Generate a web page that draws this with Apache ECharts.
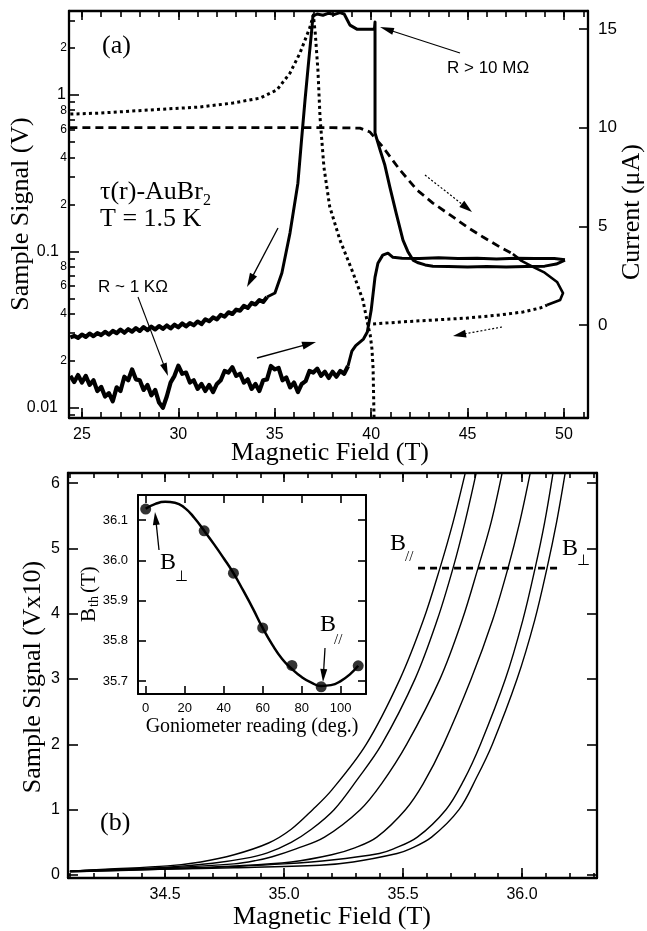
<!DOCTYPE html>
<html><head><meta charset="utf-8">
<script src="https://cdn.jsdelivr.net/npm/echarts@6.0.0/dist/echarts.min.js"></script>
<style>html,body{margin:0;padding:0;background:#fff;}#c{width:647px;height:931px;}</style>
</head><body><div id="c"></div>
<script>
// ---------- Panel (a) data ----------
const sigUpNoisyB = [24.4,24.6,24.8,25.0,25.2,25.4,25.6,25.8,26.0,26.2,26.4,26.6,26.8,27.0,27.2,27.4,27.6,27.8,28.0,28.2,28.4,28.6,28.8,29.0,29.2,29.4,29.6,29.8,30.0,30.2,30.4,30.6,30.8,31.0,31.2,31.4,31.6,31.8,32.0,32.2,32.4,32.6,32.8,33.0,33.2,33.4,33.6,33.8,34.0,34.2,34.4,34.6,34.8,35.0,35.2,35.4,35.6,35.8,36.0,36.2,36.4,36.6,36.8,37.0,37.2,37.4,37.6,37.8,38.0,38.2,38.4,38.6,38.8];
const sigUpNoisyV = [0.0160,0.0146,0.0162,0.0145,0.0160,0.0140,0.0150,0.0128,0.0136,0.0118,0.0124,0.0110,0.0135,0.0128,0.0158,0.0150,0.0176,0.0152,0.0150,0.0130,0.0140,0.0120,0.0130,0.0108,0.0100,0.0118,0.0145,0.0160,0.0186,0.0165,0.0168,0.0145,0.0150,0.0132,0.0142,0.0128,0.0140,0.0126,0.0142,0.0150,0.0172,0.0168,0.0182,0.0160,0.0165,0.0145,0.0152,0.0132,0.0142,0.0128,0.0150,0.0152,0.0185,0.0176,0.0180,0.0150,0.0156,0.0135,0.0145,0.0126,0.0142,0.0148,0.0172,0.0168,0.0178,0.0160,0.0170,0.0155,0.0170,0.0158,0.0172,0.0165,0.0185];
const sigUpCleanB = [38.8,39.0,39.2,39.4,39.6,39.8,40.0,40.2,40.35,40.6,40.87,41.13,41.6,42.5,43.5,44.5,45.5,46.5,47.5,48.5,49.5,50.05];
const sigUpCleanV = [0.0185,0.0230,0.0250,0.0262,0.0275,0.0305,0.0420,0.0685,0.0840,0.0947,0.0975,0.0917,0.0905,0.0900,0.0910,0.0900,0.0905,0.0895,0.0905,0.0900,0.0900,0.0885];
const sigDownCleanB = [50.05,49.6,49.0,48.0,47.0,46.0,45.0,44.0,43.2,42.8,42.4,42.17,41.9,41.65,41.3,40.97,40.7,40.46,40.2,40.2,40.17,39.6,39.26,38.9,38.6,38.38,38.1,37.8,37.5,37.2,36.98,36.93,36.75,36.57,36.38,36.2,35.79,35.37,35.01,34.6];
const sigDownCleanV = [0.0880,0.0830,0.0805,0.0800,0.0795,0.0800,0.0795,0.0800,0.0805,0.0820,0.0850,0.0880,0.100,0.118,0.175,0.258,0.360,0.446,0.572,2.93,2.64,2.64,2.64,2.80,3.30,3.37,3.28,3.34,3.24,3.30,3.20,2.70,1.60,0.93,0.50,0.273,0.131,0.0728,0.0542,0.0511];
const sigDownNoisyB = [34.6,34.4,34.2,34.0,33.8,33.6,33.4,33.2,33.0,32.8,32.6,32.4,32.2,32.0,31.8,31.6,31.4,31.2,31.0,30.8,30.6,30.4,30.2,30.0,29.8,29.6,29.4,29.2,29.0,28.8,28.6,28.4,28.2,28.0,27.8,27.6,27.4,27.2,27.0,26.8,26.6,26.4,26.2,26.0,25.8,25.6,25.4,25.2,25.0,24.8,24.6,24.4];
const sigDownNoisyV = [0.0511,0.0475,0.0488,0.0458,0.0468,0.0435,0.0448,0.0418,0.0424,0.0398,0.0408,0.0383,0.0393,0.0368,0.0378,0.0358,0.0368,0.0343,0.0356,0.0337,0.0348,0.0332,0.0346,0.0327,0.0340,0.0322,0.0336,0.0320,0.0333,0.0317,0.0330,0.0314,0.0328,0.0310,0.0323,0.0307,0.0318,0.0302,0.0316,0.0300,0.0310,0.0294,0.0306,0.0292,0.0300,0.0287,0.0298,0.0284,0.0294,0.0280,0.0288,0.0282];
const curDashB = [24.35,30,35,38,39.42,39.94,40.61,41.49,42.38,43.2,44.09,44.97,45.8,46.68,47.35];
const curDashI = [10.0,10.0,10.0,10.0,9.98,9.78,9.02,7.86,6.84,6.18,5.58,4.97,4.46,3.95,3.60];
const curLoopB = [47.35,47.8,48.39,49.0,49.64,49.95,49.8,49.12];
const curLoopI = [3.60,3.25,2.95,2.65,2.18,1.62,1.27,1.01];
const curDotAB = [24.4,25.93,28.53,31.12,32.83,34.23,35.11,35.79,36.31,36.83,37.0,37.1,37.24,37.35,37.55,37.85,38.38,39.06,39.57,39.83,39.95,40.04,40.1,40.15];
const curDotAI = [10.69,10.74,10.90,11.05,11.25,11.50,11.91,12.77,13.79,15.10,15.71,14.8,12.9,10.5,8.0,6.0,4.31,2.64,1.27,0.0,-0.5,-1.2,-2.2,-4.72];
const curDotBB = [40.1,41.49,43.2,44.97,46.68,47.87,48.75,49.12];
const curDotBI = [0.05,0.15,0.25,0.35,0.51,0.66,0.86,1.01];
// ---------- Panel (b) data ----------
const c1B = [34.10,34.25,34.51,34.65,34.79,34.935,35.03,35.12,35.20,35.345,35.487,35.585,35.655,35.71,35.761];
const c1V = [0.06,0.09,0.14,0.20,0.31,0.49,0.70,1.00,1.30,2.00,3.00,3.90,4.70,5.40,6.15];
const c2B = [34.10,34.25,34.51,34.70,34.83,34.93,35.03,35.115,35.21,35.305,35.41,35.55,35.643,35.710,35.76,35.807];
const c2V = [0.06,0.08,0.12,0.18,0.25,0.34,0.50,0.70,1.00,1.45,2.00,3.00,3.90,4.70,5.40,6.15];
const c3B = [34.10,34.51,34.79,34.88,34.95,35.05,35.17,35.32,35.41,35.515,35.655,35.748,35.815,35.87,35.916];
const c3V = [0.06,0.11,0.17,0.22,0.28,0.40,0.58,1.00,1.40,2.00,3.00,3.90,4.70,5.40,6.15];
const c4B = [34.10,34.51,34.80,35.03,35.20,35.30,35.39,35.51,35.585,35.67,35.786,35.876,35.941,35.99,36.034];
const c4V = [0.06,0.10,0.14,0.20,0.31,0.42,0.58,1.00,1.40,2.00,3.00,3.90,4.70,5.40,6.15];
const c5B = [34.10,34.51,34.79,35.0,35.20,35.40,35.46,35.56,35.68,35.755,35.825,35.93,36.003,36.055,36.095,36.130];
const c5V = [0.05,0.09,0.13,0.17,0.23,0.33,0.40,0.58,1.00,1.45,2.00,3.00,3.90,4.70,5.40,6.15];
const c6B = [34.10,34.51,34.79,35.15,35.29,35.475,35.53,35.62,35.735,35.81,35.875,35.979,36.053,36.105,36.145,36.181];
const c6V = [0.05,0.09,0.11,0.15,0.20,0.33,0.40,0.58,1.00,1.50,2.00,3.00,3.90,4.70,5.40,6.15];
const threshB = [35.563,36.168];
const threshV = [4.70,4.70];
// inset
const angDeg = [0,30,45,60,75,90,109];
const bTh = [36.127,36.073,35.968,35.832,35.739,35.686,35.738];
const fitDeg = [0,5,10,15,20,25,30,35,40,45,50,55,60,65,70,75,80,85,90,95,100,105,109];
const fitB = [36.128,36.140,36.145,36.143,36.130,36.105,36.073,36.040,36.005,35.968,35.925,35.880,35.832,35.790,35.755,35.730,35.710,35.696,35.688,35.690,35.700,35.718,35.738];
// ---------- tick lists ----------
const aXMajor = [25,30,35,40,45,50];
const aXMinor = [25,26,27,28,29,30,31,32,33,34,35,36,37,38,39,40,41,42,43,44,45,46,47,48,49,50,51];
const aYLabels = [0.01,0.02,0.04,0.06,0.08,0.1,0.2,0.4,0.6,0.8,1,2];
const aYMajor = [0.01,0.1,1];
const aYMinor = [0.009,0.02,0.03,0.04,0.05,0.06,0.07,0.08,0.09,0.2,0.3,0.4,0.5,0.6,0.7,0.8,0.9,2,3];
const aCurTicks = [0,5,10,15];
const bXMajor = [34.5,35.0,35.5,36.0];
const bXMinor = [34.1,34.2,34.3,34.4,34.5,34.6,34.7,34.8,34.9,35.0,35.1,35.2,35.3,35.4,35.5,35.6,35.7,35.8,35.9,36.0,36.1,36.2,36.3];
const bYTicks = [0,1,2,3,4,5,6];
const inXTicks = [0,20,40,60,80,100];
const inYTicks = [35.7,35.8,35.9,36.0,36.1];

const SANS = '"Liberation Sans", Arial, sans-serif';
const SERIF = '"Liberation Serif", "Times New Roman", serif';
const zip = (a,b) => a.map((v,i)=>[v,b[i]]);

function ax(o){
  const a = {
    type: o.type || 'value', gridIndex: o.grid, position: o.pos, min: o.min, max: o.max,
    splitLine:{show:false},
    axisLine:{show: !!o.line, onZero:false, lineStyle:{color:'#000', width:o.lw||2.3}},
    axisTick:{show: !!o.ticks, inside:true, length:o.tl||8, customValues:o.ticks, lineStyle:{color:'#000', width:1.6}},
    axisLabel:{show: !!o.labels, customValues:o.labels, margin:o.margin==null?8:o.margin, color:'#000', fontFamily:SANS, fontSize:o.fs||16, formatter:o.fmt, rich:o.rich},
    axisPointer:{show:false}, silent:true, z: 7
  };
  if (a.type === 'log') a.logBase = 10;
  return a;
}
const f1 = v => Number(v).toFixed(1);
const logFmt = v => {
  if (Math.abs(v-0.01)<1e-9) return '{b10|0.01}';
  if (Math.abs(v-0.1)<1e-9) return '{b8|0.1}';
  if (Math.abs(v-1)<1e-9) return '{b1|1}';
  const e = Math.floor(Math.log10(v)+1e-9);
  return '{s|' + Math.round(v/Math.pow(10,e)) + '}';
};

const xAxis = [
  ax({grid:0,pos:'bottom',min:24.33,max:51.245,line:true,ticks:aXMajor,tl:10,labels:aXMajor,margin:9,fs:16}),
  ax({grid:0,pos:'bottom',min:24.33,max:51.245,ticks:aXMinor,tl:6}),
  ax({grid:0,pos:'top',min:24.33,max:51.245,line:true,ticks:aXMajor,tl:9}),
  ax({grid:0,pos:'top',min:24.33,max:51.245,ticks:aXMinor,tl:6}),
  ax({grid:1,pos:'bottom',min:34.092,max:36.315,line:true,ticks:bXMajor,tl:10,labels:bXMajor,margin:9,fs:16,fmt:f1}),
  ax({grid:1,pos:'bottom',min:34.092,max:36.315,ticks:bXMinor,tl:5}),
  ax({grid:1,pos:'top',min:34.092,max:36.315,line:true,ticks:bXMajor,tl:9}),
  ax({grid:1,pos:'top',min:34.092,max:36.315,ticks:bXMinor,tl:5}),
  ax({grid:2,pos:'bottom',min:-3.95,max:113.0,line:true,lw:2,ticks:inXTicks,tl:8,labels:inXTicks,margin:8,fs:13}),
  ax({grid:2,pos:'top',min:-3.95,max:113.0,line:true,lw:2,ticks:inXTicks,tl:8})
];
const yAxis = [
  ax({grid:0,type:'log',pos:'left',min:0.0086,max:3.45,line:true,ticks:aYMajor,tl:10,labels:aYLabels,margin:2,fmt:logFmt,
      rich:{b10:{fontSize:16,fontFamily:SANS,padding:[0,9,0,0]},b8:{fontSize:16,fontFamily:SANS,padding:[0,8,0,0]},b1:{fontSize:16,fontFamily:SANS,padding:[0,1,0,0]},s:{fontSize:12,fontFamily:SANS}}}),
  ax({grid:0,type:'log',pos:'left',min:0.0086,max:3.45,ticks:aYMinor,tl:6}),
  ax({grid:0,pos:'right',min:-4.714,max:15.915,line:true,ticks:aCurTicks,tl:9,labels:aCurTicks,margin:10,fs:17}),
  ax({grid:1,pos:'left',min:-0.046,max:6.156,line:true,ticks:bYTicks,tl:10,labels:bYTicks,margin:8,fs:16}),
  ax({grid:1,pos:'right',min:-0.046,max:6.156,line:true,ticks:bYTicks,tl:10}),
  ax({grid:2,pos:'left',min:35.668,max:36.162,line:true,lw:2,ticks:inYTicks,tl:8,labels:inYTicks,margin:10,fs:13,fmt:f1}),
  ax({grid:2,pos:'right',min:35.668,max:36.162,line:true,lw:2,ticks:inYTicks,tl:8})
];

function L(name, xi, yi, data, w, type, extra){
  return Object.assign({type:'line', name, xAxisIndex:xi, yAxisIndex:yi, data, showSymbol:false, symbol:'none',
    lineStyle:{color:'#000', width:w, type:type||'solid', cap:'butt', join:'round'}, silent:true, animation:false, z:3}, extra||{});
}
const SM = {smooth:0.35};
const series = [
  L('sigUpNoisy',0,0,zip(sigUpNoisyB,sigUpNoisyV),4.2),
  L('sigUpClean',0,0,zip(sigUpCleanB,sigUpCleanV),3),
  L('sigDownClean',0,0,zip(sigDownCleanB,sigDownCleanV),3),
  L('sigDownNoisy',0,0,zip(sigDownNoisyB,sigDownNoisyV),4.2),
  L('curDash',0,2,zip(curDashB,curDashI),2.8,[8,5]),
  L('curLoop',0,2,zip(curLoopB,curLoopI),2.6),
  L('curDotA',0,2,zip(curDotAB,curDotAI),3,[3,3.2]),
  L('curDotB',0,2,zip(curDotBB,curDotBI),3,[3,3.2]),
  L('c1',4,3,zip(c1B,c1V),1.4,null,SM),
  L('c2',4,3,zip(c2B,c2V),1.4,null,SM),
  L('c3',4,3,zip(c3B,c3V),1.4,null,SM),
  L('c4',4,3,zip(c4B,c4V),1.4,null,SM),
  L('c5',4,3,zip(c5B,c5V),1.4,null,SM),
  L('c6',4,3,zip(c6B,c6V),1.4,null,SM),
  L('thresh',4,3,zip(threshB,threshV),2.6,[7,5]),
  L('fit',8,5,zip(fitDeg,fitB),2.5,null,{smooth:0.5, z:6}),
  {type:'scatter', xAxisIndex:8, yAxisIndex:5, data:zip(angDeg,bTh), symbol:'circle', symbolSize:11, itemStyle:{color:'#000'}, silent:true, animation:false, z:6}
];

function T(text,x,y,size,fam,align,rot){
  const e = {type:'text', x, y, silent:true, z:100,
    style:{text, fontSize:size, fontFamily:fam, fill:'#000', textAlign:align||'left', textVerticalAlign:'middle', align:align||'left', verticalAlign:'middle'}};
  if (rot) e.rotation = rot;
  return e;
}
function arrow(x1,y1,x2,y2,dash,len,hw,lw){
  len = len||14; hw = hw||4;
  const dx=x2-x1, dy=y2-y1, Ln=Math.hypot(dx,dy), ux=dx/Ln, uy=dy/Ln;
  const bx=x2-ux*len, by=y2-uy*len;
  return [
    {type:'line', silent:true, z:100, shape:{x1,y1,x2:bx+ux*2,y2:by+uy*2}, style:{stroke:'#000', lineWidth:lw||1.3, lineDash:dash||null}},
    {type:'polygon', silent:true, z:100, shape:{points:[[x2,y2],[bx-uy*hw,by+ux*hw],[bx+uy*hw,by-ux*hw]]}, style:{fill:'#000'}}
  ];
}
const R = Math.PI/2;
const graphic = [
  T('Sample Signal (V)',21,214,26,SERIF,'center',R),
  T('Current (\u03bcA)',632,212,26,SERIF,'center',R),
  T('Magnetic Field (T)',330,453,26,SERIF,'center'),
  T('Sample Signal (Vx10)',33,677,26,SERIF,'center',R),
  T('Magnetic Field (T)',332,917,26,SERIF,'center'),
  T('Goniometer reading (deg.)',252,727,20,SERIF,'center'),
  {type:'group', x:89, y:594, rotation:R, silent:true, z:100, children:[
    T('B',-28,0,21,SERIF,'left'), T('th',-13,5,14,SERIF,'left'), T('(T)',1,0,21,SERIF,'left')]},
  T('(a)',102,46,26,SERIF,'left'),
  T('\u03c4(r)-AuBr',100,192,26,SERIF,'left'), T('2',203,201,16,SERIF,'left'),
  T('T = 1.5 K',100,219,26,SERIF,'left'),
  T('R > 10 M\u03a9',447,68.5,17,SANS,'left'),
  T('R ~ 1 K\u03a9',98,287.5,17,SANS,'left'),
  T('(b)',100,823,26,SERIF,'left'),
  T('B',390,544,24,SERIF,'left'), T('//',405,557,15,SERIF,'left'),
  T('B',562,549,24,SERIF,'left'), T('\u22a5',577,561,15,SERIF,'left'),
  T('B',160,563,24,SERIF,'left'), T('\u22a5',175,577,15,SERIF,'left'),
  T('B',320,625,24,SERIF,'left'), T('//',334,640,15,SERIF,'left'),
  ...arrow(278,228,247,287),
  ...arrow(257,358,316,342),
  ...arrow(138,297,168,376,null,13,3.5,1.1),
  ...arrow(460,53,380,27,null,14,3.5,1.1),
  ...arrow(425,175,472,212,[2,2],13,4,1.2),
  ...arrow(502,327,453,336,[2,2],13,4,1.2),
  ...arrow(159,550,155,512,null,13,3.5,1.3),
  ...arrow(325,648,323,682,null,13,3.5,1.3)
];

const chart = echarts.init(document.getElementById('c'), null, {renderer:'canvas'});
chart.setOption({
  animation:false, backgroundColor:'#fff',
  grid:[
    {left:69, top:11, width:519, height:407, outerBoundsMode:'none', containLabel:false},
    {left:68, top:473, width:529, height:405, outerBoundsMode:'none', containLabel:false},
    {left:138, top:495, width:228, height:199, show:true, backgroundColor:'#fff', borderWidth:0, z:4, outerBoundsMode:'none', containLabel:false}
  ],
  xAxis, yAxis, series, graphic
});
</script></body></html>
